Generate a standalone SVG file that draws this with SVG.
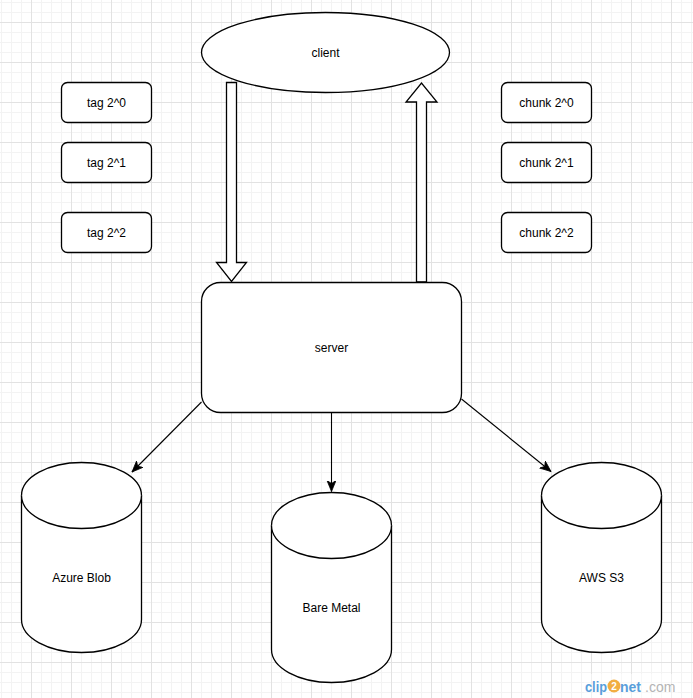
<svg xmlns="http://www.w3.org/2000/svg" width="693" height="698" viewBox="0 0 693 698">
  <style>
    .shape { fill: #ffffff; stroke: #000000; stroke-width: 1.3; }
    .lbl { font-family: "Liberation Sans", Arial, Helvetica, sans-serif; font-size: 12px; fill: #000000; text-anchor: middle; dominant-baseline: central; }
    .conn { fill: none; stroke: #000000; stroke-width: 1.1; marker-end: url(#arr); }
  </style>
  <defs>
    <pattern id="minor" patternUnits="userSpaceOnUse" x="1" y="2" width="10" height="10">
      <path d="M0.5 0 V10 M0 0.5 H10" stroke="#f3f3f3" stroke-width="1" fill="none"/>
    </pattern>
    <pattern id="major" patternUnits="userSpaceOnUse" x="31" y="22" width="40" height="40">
      <path d="M0.5 0 V40 M0 0.5 H40" stroke="#e2e2e2" stroke-width="1" fill="none"/>
    </pattern>
    <marker id="arr" markerUnits="userSpaceOnUse" markerWidth="14" markerHeight="12" refX="11" refY="4.5" orient="auto">
      <path d="M0,0 L11,4.5 L0,9 L3,4.5 Z" fill="#000000" stroke="#000000" stroke-width="0.8"/>
    </marker>
  </defs>

  <rect width="693" height="698" fill="#ffffff"/>
  <rect width="693" height="698" fill="url(#minor)"/>
  <rect width="693" height="698" fill="url(#major)"/>

  <g id="connectors">
    <path class="conn" d="M201.5,402 L132,472"/>
    <path class="conn" d="M331.5,412.5 L331.5,491.5"/>
    <path class="conn" d="M461.5,399 L551,471.5"/>
  </g>

  <g id="client">
    <ellipse class="shape" cx="325.5" cy="52.5" rx="124" ry="40"/>
    <text class="lbl" x="325.5" y="52.5">client</text>
  </g>

  <g id="arrow-down">
    <polygon class="shape" points="226.5,82.5 236.5,82.5 236.5,262.5 246.5,262.5 231.5,281.5 216.5,262.5 226.5,262.5"/>
  </g>
  <g id="arrow-up">
    <polygon class="shape" points="416.5,282 426.5,282 426.5,102 437,102 421.5,83 406,102 416.5,102"/>
  </g>

  <g id="tag0">
    <rect class="shape" x="61.5" y="82.5" width="90" height="40" rx="6"/>
    <text class="lbl" x="106.5" y="102.5">tag 2^0</text>
  </g>
  <g id="tag1">
    <rect class="shape" x="61.5" y="142.5" width="90" height="40" rx="6"/>
    <text class="lbl" x="106.5" y="162.5">tag 2^1</text>
  </g>
  <g id="tag2">
    <rect class="shape" x="61.5" y="212.5" width="90" height="40" rx="6"/>
    <text class="lbl" x="106.5" y="232.5">tag 2^2</text>
  </g>

  <g id="chunk0">
    <rect class="shape" x="501.5" y="82.5" width="90" height="40" rx="6"/>
    <text class="lbl" x="546.5" y="102.5">chunk 2^0</text>
  </g>
  <g id="chunk1">
    <rect class="shape" x="501.5" y="142.5" width="90" height="40" rx="6"/>
    <text class="lbl" x="546.5" y="162.5">chunk 2^1</text>
  </g>
  <g id="chunk2">
    <rect class="shape" x="501.5" y="212.5" width="90" height="40" rx="6"/>
    <text class="lbl" x="546.5" y="232.5">chunk 2^2</text>
  </g>

  <g id="server">
    <rect class="shape" x="201.5" y="282.5" width="260" height="130" rx="19"/>
    <text class="lbl" x="331.5" y="347.5">server</text>
  </g>

  <g id="azure">
    <path class="shape" d="M21.5,495.5 A60,33 0 0 1 141.5,495.5 L141.5,619.5 A60,33 0 0 1 21.5,619.5 Z"/>
    <path class="shape" fill="none" d="M21.5,495.5 A60,33 0 0 0 141.5,495.5"/>
    <text class="lbl" x="81.5" y="578">Azure Blob</text>
  </g>
  <g id="bare-metal">
    <path class="shape" d="M271.5,525.5 A60,33 0 0 1 391.5,525.5 L391.5,649.5 A60,33 0 0 1 271.5,649.5 Z"/>
    <path class="shape" fill="none" d="M271.5,525.5 A60,33 0 0 0 391.5,525.5"/>
    <text class="lbl" x="331.5" y="608">Bare Metal</text>
  </g>
  <g id="aws">
    <path class="shape" d="M541.5,495.5 A60,33 0 0 1 661.5,495.5 L661.5,619.5 A60,33 0 0 1 541.5,619.5 Z"/>
    <path class="shape" fill="none" d="M541.5,495.5 A60,33 0 0 0 661.5,495.5"/>
    <text class="lbl" x="601.5" y="578">AWS S3</text>
  </g>

  <g id="watermark" font-family="'Liberation Sans', Arial, sans-serif" font-weight="bold" opacity="0.85">
    <rect x="584" y="674" width="94" height="24" fill="#ffffff" opacity="0.6"/>
    <text x="585" y="692" font-size="14" fill="#3d8fd6" textLength="22" lengthAdjust="spacingAndGlyphs">clip</text>
    <circle cx="614" cy="686" r="6.5" fill="#f0a020"/>
    <text x="614" y="690" font-size="10" fill="#ffffff" text-anchor="middle">2</text>
    <text x="620" y="692" font-size="14" fill="#3d8fd6">net</text>
    <text x="645" y="692" font-size="14" fill="#a8a8a8" font-weight="normal">.com</text>
  </g>
</svg>
